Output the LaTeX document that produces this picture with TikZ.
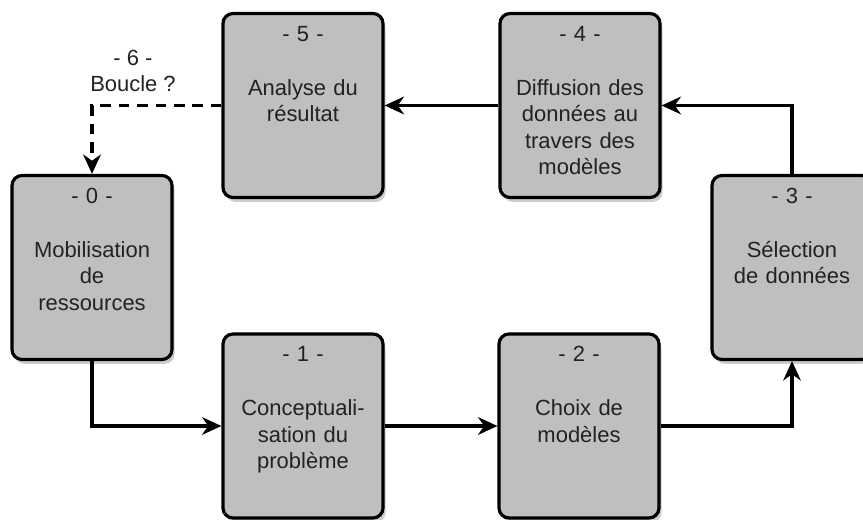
\documentclass[tikz,border=0pt]{standalone}
\usepackage{fontspec}
\setmainfont{Liberation Sans}
\usepackage{xcolor}
\usepackage{tikz}
\usetikzlibrary{arrows.meta}
\usetikzlibrary{shadows}
\definecolor{boxgray}{HTML}{BFBFBF}
\definecolor{inkgray}{HTML}{222222}
\tikzset{>={Stealth[length=11pt, width=10pt, inset=3.5pt]}}
\tikzset{
  etape/.style={draw=black, line width=1.8pt, rounded corners=0.2cm, fill=boxgray,
    text=inkgray, align=center, text width=3cm, inner xsep=0.1cm, inner ysep=0pt,
    text height=0.56cm, text depth=3.12cm,
    font=\fontsize{12.5}{15}\selectfont,
    drop shadow={shadow xshift=1.5pt, shadow yshift=-2.5pt, opacity=0.2, fill=black}},
  fleche/.style={->, line width=2.1pt},
  boucle/.style={->, line width=2.1pt, dash pattern=on 6pt off 4.5pt}
}
\newcommand{\etape}[2]{- #1 -\\[0.55cm]#2}

\begin{document}
\begin{tikzpicture}
        \useasboundingbox (0,0) rectangle (17.26,10.4);
        \clip (0,0) rectangle (17.26,10.4);

        % Etapes
        \node[etape] (b0) at (1.84,5.05) {\etape{0}{Mobilisation\\de\\ressources}};
        \node[etape] (b1) at (6.06,1.88) {\etape{1}{Conceptuali-\\sation du\\problème}};
        \node[etape] (b2) at (11.58,1.88) {\etape{2}{Choix de\\modèles}};
        \node[etape] (b3) at (15.84,5.05) {\etape{3}{Sélection\\de données}};
        \node[etape] (b4) at (11.6,8.29) {\etape{4}{Diffusion des\\données au\\travers des\\modèles}};
        \node[etape] (b5) at (6.06,8.29) {\etape{5}{Analyse du\\résultat}};

        % Fleches
        \draw [fleche] (b0.south) |- (b1.west);
        \draw [fleche] (b1.east) -- (b2.west);
        \draw [fleche] (b2.east) -| (b3.south);
        \draw [fleche] (b3.north) |- (b4.east);
        \draw [fleche] (b4.west) -- (b5.east);
        \draw [boucle] (b5.west) -| (b0.north);
        \node[text=inkgray, align=center, font=\fontsize{12.5}{15}\selectfont] (b6) at (2.66,8.98) {- 6 -\\Boucle ?};
\end{tikzpicture}
\end{document}
